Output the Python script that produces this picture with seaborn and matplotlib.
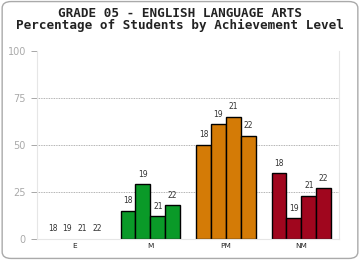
import matplotlib
matplotlib.use("Agg")
import matplotlib.pyplot as plt
import seaborn as sns
import pandas as pd
from matplotlib.patches import FancyBboxPatch

levels = ["E", "M", "PM", "NM"]
years = ["18", "19", "21", "22"]
values_E = [0, 0, 0, 0]
values_M = [15, 29, 12, 18]
values_PM = [50, 61, 65, 55]
values_NM = [35, 11, 23, 27]
level_colors = {"E": "#2a6fbb", "M": "#0a9a28", "PM": "#d47b06", "NM": "#a0061e"}
title_lines = ["GRADE 05 - ENGLISH LANGUAGE ARTS", "Percentage of Students by Achievement Level"]
yticks = [0, 25, 50, 75, 100]

rows = []
for lvl, vals in zip(levels, [values_E, values_M, values_PM, values_NM]):
    for yr, v in zip(years, vals):
        rows.append({"level": lvl, "year": yr, "value": v})
df = pd.DataFrame(rows)

sns.set_style("white")
fig = plt.figure(figsize=(3.6, 2.6), dpi=100)
fig.patch.set_facecolor("white")
ax = fig.add_axes([0.103, 0.081, 0.839, 0.723])

sns.barplot(data=df, x="level", y="value", hue="year", order=levels, hue_order=years,
            ax=ax, width=0.79, gap=0, legend=False, errorbar=None, edgecolor="black", linewidth=1.0)

for cont, yr in zip(ax.containers, years):
    for bar, lvl in zip(cont, levels):
        bar.set_facecolor(level_colors[lvl])
        h = bar.get_height()
        if h == 0:
            bar.set_linewidth(0)
        ax.annotate(yr, (bar.get_x() + bar.get_width() / 2, h), xytext=(0, 4),
                    textcoords="offset points", ha="center", va="bottom",
                    fontsize=5.5, color="#333333", family="DejaVu Sans")

ax.set_ylim(0, 100)
ax.set_xlim(-0.5, 3.5)
ax.set_yticks(yticks)
ax.set_yticklabels([str(t) for t in yticks], fontsize=7, color="#aaaaaa")
ax.tick_params(axis="y", length=4, color="#999999", width=0.6, pad=4, left=True)
ax.tick_params(axis="x", length=0, labelsize=5.3, pad=3, labelcolor="#222222")
ax.set_xlabel("")
ax.set_ylabel("")
for y in [25, 50, 75]:
    ax.axhline(y, color="#999999", linestyle=(0, (1, 1)), linewidth=0.6, zorder=0)
for side in ["left", "right", "bottom"]:
    ax.spines[side].set_color("#e6e6e6")
    ax.spines[side].set_linewidth(0.8)
ax.spines["top"].set_visible(False)

fig.text(0.5, 0.925, "\n".join(title_lines), ha="center", va="center", fontsize=9.1,
         family="DejaVu Sans Mono", weight="bold", color="#222222", linespacing=0.95)

frame = FancyBboxPatch((0.006, 0.006), 0.988, 0.988, boxstyle="round,pad=0,rounding_size=0.025",
                       transform=fig.transFigure, facecolor="none", edgecolor="#aaaaaa",
                       linewidth=1.0, zorder=10)
fig.patches.append(frame)

fig.savefig("out.png", dpi=100)
